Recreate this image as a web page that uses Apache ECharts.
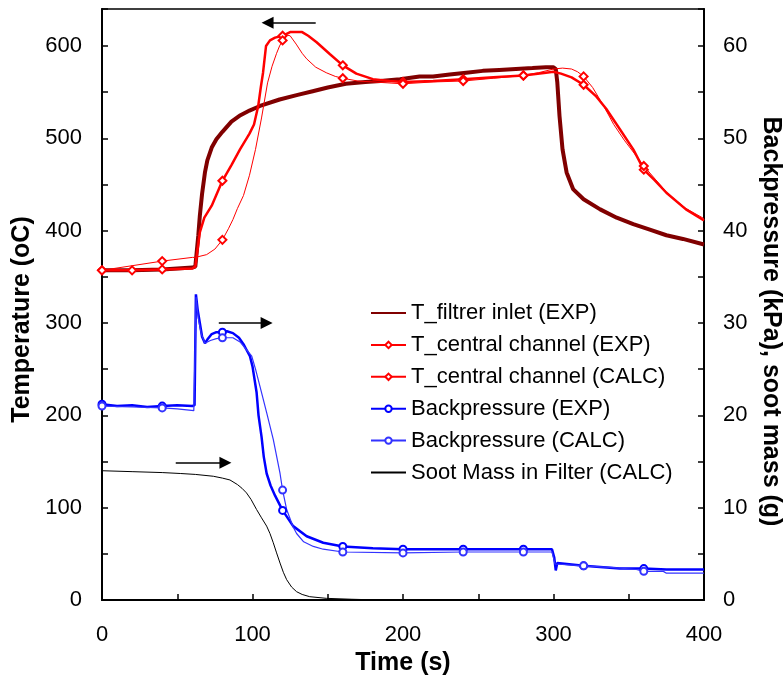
<!DOCTYPE html>
<html><head><meta charset="utf-8">
<script src="https://cdn.jsdelivr.net/npm/echarts@6/dist/echarts.min.js"></script>
<style>html,body{margin:0;padding:0;background:#fff}#c{width:783px;height:677px}</style>
</head><body><div id="c"></div>
<script>
// ---- Data ----
const seriesNames = ['T_filtrer inlet (EXP)','T_central channel (EXP)','T_central channel (CALC)','Backpressure (EXP)','Backpressure (CALC)','Soot Mass in Filter (CALC)'];

const tInletTime = [0,20,40,60,62,64,65,66.5,68.4,70,72.9,76,80,86,92,98,105,118,130,140,150,162,175,185,198,211,220,231,242,253,264,275,286,295,300,301.5,302.5,304,306,308.7,313,320,331,342,353,364,375,386,400];
const tInletVal  = [357,357,358,360,361,395,416,440,463,476,490,499,507,518,525,530,535,542,547,551,555,559,561,562,564,567,567,569,571,573,574,575,576,577,577,575,561,524,488,463,445,434,423,414,407,401,395,391,385];

const tcExpTime = [0,20,40,60,62,65,68,72.9,80,86,91.7,98,101,103.8,105.5,107,109,111.6,115,120,125,133,137,142.6,151.5,160,169,180,191,200,220,240,260,280,295,300,305,312,320,328,335,344,353,360,367,375,388,400];
const tcExpVal  = [357,357,358,359,361,398,414,427,454,471,488,505,515,535,555,571,600,606,609,611,615,615,611,604,591,579,570,564,562,561,562,564,566,568,571,572,570,566,558,546,532,510,488,466,455,441,423,411];
const tcExpMarks = [0,20,40,80,120,160,200,240,280,320,360];

const tcCalcTime = [0,20,40,60,62,69.5,75,80,84,87,90,94,98,102,106,110,113,116,118,120,122,125,129,133,136,142,149,155,160,170,180,190,200,220,240,260,280,290,300,306,312,316,320,326,333,340,347,354,360,368,376,388,400];
const tcCalcVal  = [357,362,367,371,371,374,380,390,402,412,424,438,460,488,522,560,578,592,600,606,612,611,602,592,586,577,571,567,565,562,561,560,559,561,562,565,568,571,575,576,575,572,567,555,536,515,498,483,470,455,440,424,413];
const tcCalcMarks = [0,40,80,120,160,200,240,280,320,360];

const bpExpTime = [0,10,20,30,40,50,60,61.5,62.4,63.5,65,66.5,68.4,70,72.9,76,80,83,87,91,94,96,98.3,100,102.7,104,106,107.5,109.4,112,115,120,127,136,147,160,180,200,220,240,260,280,299,300.5,301.5,302.5,320,344,360,375,400];
const bpExpVal  = [21.2,21.0,21.1,20.9,21.0,21.1,21.0,21.1,33.1,31.5,30.0,28.5,27.8,28.2,28.8,29.0,29.0,29.1,28.9,28.4,27.7,27.1,26.4,25.3,22.5,20.0,17.7,15.5,13.7,12.4,11.3,9.7,8.0,6.9,6.2,5.8,5.6,5.5,5.5,5.5,5.5,5.5,5.5,4.6,3.2,4.0,3.7,3.4,3.4,3.3,3.3];
const bpExpMarks = [0,40,80,120,160,200,240,280,320,360];

const bpCalcTime = [0,20,40,50,61,62,62.5,64,66,68.4,72,76,80,87,92,96,99.5,102,105,109.4,113.8,118.3,120,122.7,127,129.3,134,140.4,147,160,200,240,280,299,301,320,340,355,360,373,375,400];
const bpCalcVal  = [21.0,20.9,20.8,20.7,20.5,20.5,32.8,30.5,28.8,27.8,28.1,28.3,28.4,28.4,27.9,27.1,26.4,25.0,23.1,20.3,17.4,13.7,11.9,9.8,7.9,7.2,6.3,5.8,5.5,5.2,5.1,5.2,5.2,5.2,3.9,3.7,3.5,3.3,3.1,3.1,2.9,2.9];
const bpCalcMarks = [0,40,80,120,160,200,240,280,320,360];

const sootTime = [0,20,40,52,62,74,80,85,90,93,96,99,102.7,106,109.4,111.6,113.8,116,118.3,120.5,122.7,126,129.3,133,138,149,166,180,200,400];
const sootVal  = [14.0,13.9,13.8,13.7,13.6,13.4,13.2,13.0,12.5,12.1,11.6,10.9,9.8,8.9,8.0,7.2,6.2,5.1,4.0,3.0,2.2,1.4,0.9,0.6,0.36,0.18,0.08,0.02,0,0];

// arrows (time start, time end, temperature level on left axis)
const arrowFrom = [142, 77.6, 49];
const arrowTo   = [110, 109.4, 82];
const arrowLevel = [625, 300, 148.6];

// ---- Chart ----
const FONT = 'Liberation Sans, Arial, sans-serif';
function mk(name, ts, vs, marks, sym, color, width, yIdx, symSize) {
  return {
    name, type: 'line', yAxisIndex: yIdx, symbol: sym, symbolSize: symSize,
    showAllSymbol: true, smooth: false, animation: false,
    lineStyle: { color, width }, itemStyle: { color, borderColor: color, borderWidth: 1 },
    emphasis: { disabled: true },
    data: ts.map((t, i) => ({ value: [t, vs[i]], symbol: (marks && marks.includes(t)) ? sym : 'none' }))
  };
}
const s = [
  mk(seriesNames[0], tInletTime, tInletVal, null, 'none', '#800000', 4, 0, 0),
  mk(seriesNames[1], tcExpTime, tcExpVal, tcExpMarks, 'emptyDiamond', '#FF0000', 2.5, 0, 8),
  mk(seriesNames[2], tcCalcTime, tcCalcVal, tcCalcMarks, 'emptyDiamond', '#FF0000', 1, 0, 8),
  mk(seriesNames[3], bpExpTime, bpExpVal, bpExpMarks, 'emptyCircle', '#0000FF', 2.5, 1, 7),
  mk(seriesNames[4], bpCalcTime, bpCalcVal, bpCalcMarks, 'emptyCircle', '#3333FF', 1.2, 1, 7),
  mk(seriesNames[5], sootTime, sootVal, null, 'none', '#000000', 1, 1, 0)
];
s[0].markLine = {
  silent: true, animation: false, symbol: ['none', 'triangle'], symbolSize: 12,
  lineStyle: { color: '#000', width: 1.5, type: 'solid' }, label: { show: false },
  emphasis: { disabled: true },
  data: arrowFrom.map((a, i) => [{ coord: [a, arrowLevel[i]] }, { coord: [arrowTo[i], arrowLevel[i]] }])
};

const hideSym = { color: 'transparent', borderColor: 'transparent', borderWidth: 0, opacity: 0 };
const legendData = seriesNames.map((n, i) => (i === 0 || i === 5) ? { name: n, itemStyle: hideSym } : { name: n });

const axisCommon = {
  axisLine: { show: true, lineStyle: { color: '#000', width: 2 } },
  axisTick: { show: true, inside: true, length: 6, lineStyle: { color: '#000', width: 1.5 } },
  splitLine: { show: false },
};
const option = {
  animation: false,
  backgroundColor: '#fff',
  grid: { left: 102, right: 79, top: 9, bottom: 77, outerBoundsMode: 'none', containLabel: false,
          show: true, borderColor: '#000', borderWidth: 1.5, backgroundColor: 'transparent' },
  legend: {
    data: legendData, orient: 'vertical', left: 365, top: 297, itemGap: 9.9,
    itemWidth: 35, itemHeight: 8, selectedMode: false,
    textStyle: { fontFamily: FONT, fontSize: 22, color: '#000', lineHeight: 22 }
  },
  xAxis: Object.assign({}, axisCommon, {
    type: 'value', min: 0, max: 400, interval: 50,
    name: 'Time (s)', nameLocation: 'middle', nameGap: 49,
    nameTextStyle: { fontFamily: FONT, fontSize: 25, fontWeight: 'bold', color: '#000' },
    axisLabel: { margin: 24, fontFamily: FONT, fontSize: 22, color: '#000', formatter: v => (v % 100 === 0 ? String(v) : '') }
  }),
  yAxis: [
    Object.assign({}, axisCommon, {
      type: 'value', min: 0, max: 640, interval: 50, position: 'left',
      name: 'Temperature (oC)', nameLocation: 'middle', nameGap: 57,
      nameTextStyle: { fontFamily: FONT, fontSize: 25, fontWeight: 'bold', color: '#000', padding: [0, 30, 0, 0] },
      axisLabel: { margin: 20, fontFamily: FONT, fontSize: 22, color: '#000', formatter: v => (v % 100 === 0 ? String(v) : '') }
    }),
    Object.assign({}, axisCommon, {
      type: 'value', min: 0, max: 64, interval: 5, position: 'right',
      name: 'Backpressure (kPa), soot mass (g)', nameLocation: 'middle', nameGap: 49, nameRotate: -90,
      nameTextStyle: { fontFamily: FONT, fontSize: 25, fontWeight: 'bold', color: '#000', padding: [0, 0, 0, 34] },
      axisLabel: { margin: 19, fontFamily: FONT, fontSize: 22, color: '#000', formatter: v => (v % 10 === 0 ? String(v) : '') }
    })
  ],
  series: s
};
const chart = echarts.init(document.getElementById('c'), null, { renderer: 'canvas' });
chart.setOption(option);
</script></body></html>
